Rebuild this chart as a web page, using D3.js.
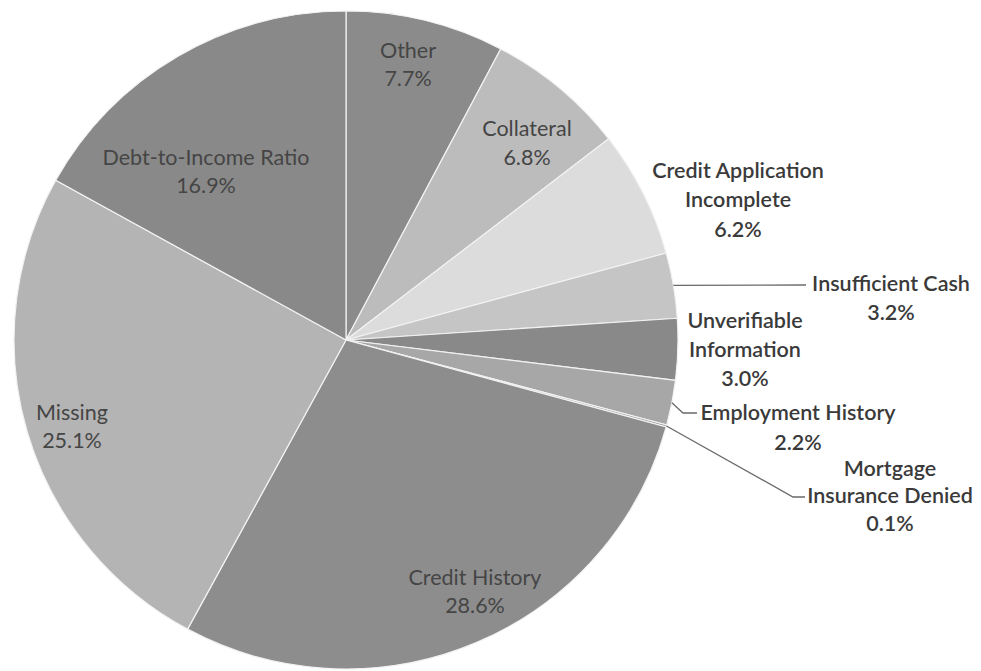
<!DOCTYPE html>
<html>
<head>
<meta charset="utf-8">
<script src="https://cdn.jsdelivr.net/npm/d3@7"></script>
<style>
  html, body { margin: 0; padding: 0; background: #ffffff; }
  svg { display: block; }
  text { font-family: Lato, "Open Sans", sans-serif; }
</style>
</head>
<body>
<svg id="chart" width="981" height="671"></svg>
<script>
// Reasons for denial, clockwise from 12 o'clock
const categories = [
  "Other", "Collateral", "Credit Application Incomplete", "Insufficient Cash",
  "Unverifiable Information", "Employment History", "Mortgage Insurance Denied",
  "Credit History", "Missing", "Debt-to-Income Ratio"
];
const shares = [7.7, 6.8, 6.2, 3.2, 3.0, 2.2, 0.1, 28.6, 25.1, 16.9];

// How each category name is broken onto lines in its label
const labelLines = [
  ["Other"], ["Collateral"], ["Credit Application", "Incomplete"], ["Insufficient Cash"],
  ["Unverifiable", "Information"], ["Employment History"], ["Mortgage", "Insurance Denied"],
  ["Credit History"], ["Missing"], ["Debt-to-Income Ratio"]
];

// Grey fill for each slice
const fills = [
  "#8b8b8b", "#bcbcbc", "#dcdcdc", "#c5c5c5", "#898989",
  "#a7a7a7", "#9a9a9a", "#8d8d8d", "#b4b4b4", "#898989"
];

// Label layout: anchor (centre of first line), line spacing, inside/outside, leader line
const labelLayout = [
  { x: 408, y: 50,  dy: 28, inside: true },
  { x: 527, y: 128, dy: 29, inside: true },
  { x: 738, y: 170, dy: 29.5, inside: false },
  { x: 891, y: 283, dy: 29, inside: false, leader: [[806, 285]] },
  { x: 745, y: 320, dy: 29, inside: false },
  { x: 798, y: 412, dy: 30, inside: false, leader: [[683, 413], [697, 413]] },
  { x: 890, y: 468, dy: 27.5, inside: false, leader: [[793, 497], [805, 497]] },
  { x: 475, y: 577, dy: 28, inside: true },
  { x: 72,  y: 412, dy: 28, inside: true },
  { x: 206, y: 157, dy: 28, inside: true }
];

const cx = 346, cy = 340, rx = 332, ry = 329;

const svg = d3.select("#chart");
const data = categories.map((c, i) => ({ name: c, value: shares[i], i }));

const pie = d3.pie().value(d => d.value).sort(null);
const arcs = pie(data);

const arc = d3.arc().innerRadius(0).outerRadius(rx);

// Slightly flattened pie
const g = svg.append("g")
  .attr("transform", `translate(${cx},${cy}) scale(1,${ry / rx})`);

g.selectAll("path.slice")
  .data(arcs)
  .join("path")
  .attr("class", "slice")
  .attr("d", arc)
  .attr("fill", d => fills[d.data.i])
  .attr("stroke", "#f2f2f2")
  .attr("stroke-width", 1.2);

// Leader lines start on the rim at each slice's mid-angle
const fmt = v => d3.format(".1f")(v) + "%";
const leaders = svg.append("g")
  .attr("fill", "none")
  .attr("stroke", "#6a6a6a")
  .attr("stroke-width", 1.3);

arcs.forEach(a => {
  const L = labelLayout[a.data.i];
  if (!L.leader) return;
  const mid = (a.startAngle + a.endAngle) / 2;
  const start = [cx + rx * Math.sin(mid), cy - ry * Math.cos(mid)];
  leaders.append("path").attr("d", d3.line()([start, ...L.leader]));
});

// Labels: category name then percentage
const labels = svg.append("g")
  .attr("text-anchor", "middle")
  .attr("font-size", 21.5);

arcs.forEach(a => {
  const i = a.data.i;
  const L = labelLayout[i];
  const lines = labelLines[i].concat([fmt(a.data.value)]);
  const t = labels.append("text")
    .attr("fill", L.inside ? "#454545" : "#3a3a3a")
    .attr("font-weight", L.inside ? 400 : 600);
  lines.forEach((s, k) => {
    t.append("tspan")
      .attr("x", L.x)
      .attr("y", L.y + k * L.dy)
      .attr("dy", "0.35em")
      .text(s);
  });
});
</script>
</body>
</html>
